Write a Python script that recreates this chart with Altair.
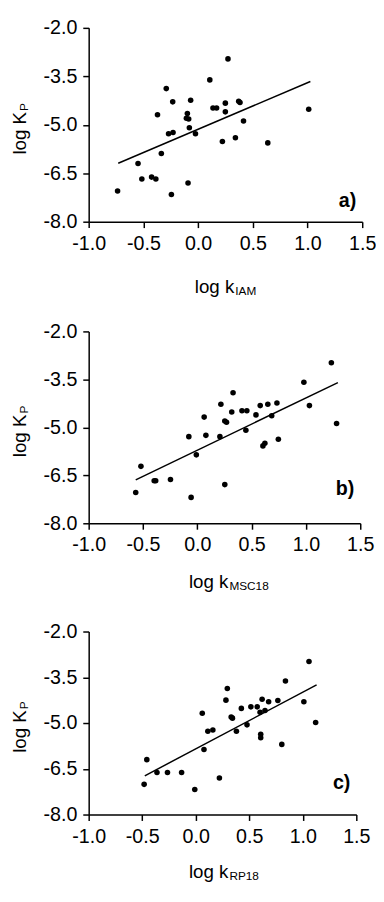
import altair as alt
import pandas as pd

# ---- panel a) log k_IAM ----
a_x = [-0.736, -0.549, -0.514, -0.425, -0.386, -0.371, -0.336, -0.291, -0.270, -0.229,
       -0.232, -0.244, -0.107, -0.098, -0.086, -0.080, -0.092, -0.068, -0.024, 0.107,
       0.136, 0.169, 0.222, 0.249, 0.249, 0.273, 0.341, 0.371, 0.383, 0.415, 0.637, 1.011]
a_y = [-7.05, -6.20, -6.68, -6.62, -6.68, -4.69, -5.89, -3.88, -5.28, -5.24,
       -4.29, -7.16, -4.80, -4.65, -4.82, -5.09, -6.80, -4.24, -5.28, -3.61,
       -4.48, -4.48, -5.52, -4.33, -4.60, -2.96, -5.40, -4.27, -4.31, -4.88, -5.56, -4.52]
a_line_x = [-0.730, 1.026]
a_line_y = [-6.19, -3.66]

# ---- panel b) log k_MSC18 ----
b_x = [-0.567, -0.519, -0.397, -0.383, -0.247, -0.057, -0.078, -0.009, 0.063, 0.079,
       0.208, 0.217, 0.253, 0.269, 0.253, 0.317, 0.329, 0.411, 0.456, 0.447,
       0.540, 0.579, 0.604, 0.622, 0.649, 0.685, 0.733, 0.746, 0.981, 1.032, 1.234, 1.282]
b_y = [-7.04, -6.22, -6.67, -6.67, -6.63, -7.19, -5.29, -5.86, -4.68, -5.25,
       -5.29, -4.28, -4.80, -4.84, -6.79, -4.52, -3.92, -4.48, -4.48, -5.09,
       -4.61, -4.32, -5.58, -5.50, -4.28, -4.64, -4.24, -5.37, -3.59, -4.32, -2.98, -4.88]
b_line_x = [-0.567, 1.294]
b_line_y = [-6.64, -3.60]

# ---- panel c) log k_RP18 ----
c_x = [-0.482, -0.457, -0.362, -0.264, -0.132, -0.009, 0.061, 0.077, 0.113, 0.160,
       0.221, 0.282, 0.295, 0.331, 0.343, 0.380, 0.426, 0.479, 0.515, 0.574,
       0.601, 0.620, 0.647, 0.681, 0.607, 0.607, 0.767, 0.804, 0.838, 1.010, 1.058, 1.120]
c_y = [-7.01, -6.20, -6.62, -6.62, -6.62, -7.18, -4.68, -5.87, -5.27, -5.23,
       -6.80, -4.25, -3.87, -4.80, -4.84, -5.27, -4.52, -5.06, -4.47, -4.47,
       -4.65, -4.22, -4.59, -4.30, -5.37, -5.48, -4.26, -5.70, -3.62, -4.30, -2.98, -4.98]
c_line_x = [-0.476, 1.129]
c_line_y = [-6.73, -3.75]

x_ticks = [-1.0, -0.5, 0.0, 0.5, 1.0, 1.5]
y_ticks = [-2.0, -3.5, -5.0, -6.5, -8.0]

FONT = "Liberation Sans"
LABEL_EXPR = "datum.value < 0 ? '-' + format(-datum.value, '.1f') : format(datum.value, '.1f')"


def txt(s, **kw):
    return alt.Chart(pd.DataFrame({"t": [s]})).mark_text(font=FONT, color="black", **kw)


def panel(px, py, lx, ly, letter, sub, w, h, xt_x, xt_y, letter_y):
    xs = alt.Scale(domain=[-1, 1.5], nice=False, zero=False)
    ys = alt.Scale(domain=[-8, -2], nice=False, zero=False)
    xax = alt.Axis(values=x_ticks, labelExpr=LABEL_EXPR, title=None, grid=False,
                   labelPadding=6, labelFlush=False, labelOverlap=False)
    yax = alt.Axis(values=y_ticks, labelExpr=LABEL_EXPR, title=None, grid=False,
                   labelPadding=6, labelFlush=False, labelOverlap=False)
    pts = alt.Chart(pd.DataFrame({"x": px, "y": py})).mark_circle(
        size=32, color="black", opacity=1
    ).encode(x=alt.X("x:Q", scale=xs, axis=xax), y=alt.Y("y:Q", scale=ys, axis=yax))
    line = alt.Chart(pd.DataFrame({"x": lx, "y": ly})).mark_line(
        color="black", strokeWidth=1.5
    ).encode(x=alt.X("x:Q", scale=xs, axis=xax), y=alt.Y("y:Q", scale=ys, axis=yax))
    lab = txt(letter, fontSize=20, fontWeight="bold", align="right", baseline="alphabetic").encode(
        text="t:N", x=alt.value(w - 6), y=alt.value(letter_y))
    xt1 = txt("log k", fontSize=19, align="right", baseline="alphabetic").encode(
        text="t:N", x=alt.value(xt_x), y=alt.value(xt_y))
    xt2 = txt(sub, fontSize=12, align="left", baseline="alphabetic").encode(
        text="t:N", x=alt.value(xt_x + 1), y=alt.value(xt_y + 2))
    yt_end = h / 2 - 13
    yt1 = txt("log K", fontSize=19, align="right", baseline="alphabetic", angle=270).encode(
        text="t:N", x=alt.value(-64), y=alt.value(yt_end))
    yt2 = txt("P", fontSize=12, align="left", baseline="alphabetic", angle=270).encode(
        text="t:N", x=alt.value(-62), y=alt.value(yt_end - 1))
    return alt.layer(line, pts, lab, xt1, xt2, yt1, yt2).properties(width=w, height=h)


pa = panel(a_x, a_y, a_line_x, a_line_y, "a)", "IAM", 278, 197, 148, 269, 182)
pb = panel(b_x, b_y, b_line_x, b_line_y, "b)", "MSC18", 276, 195, 142, 261, 166)
pc = panel(c_x, c_y, c_line_x, c_line_y, "c)", "RP18", 272, 186, 142, 251, 160)

top = alt.vconcat(pa, pb, spacing=25.5)
chart = alt.vconcat(top, pc, spacing=29.5).properties(
    padding={"left": 3, "top": 3, "right": 0, "bottom": 0}
).configure_view(stroke=None).configure_axis(
    labelFont=FONT, labelFontSize=20, labelColor="black",
    domainColor="black", tickColor="black", domainWidth=1.5, tickWidth=1.5, tickSize=6,
)

chart.save("out.html", embed_options={"renderer": "svg", "actions": False})
